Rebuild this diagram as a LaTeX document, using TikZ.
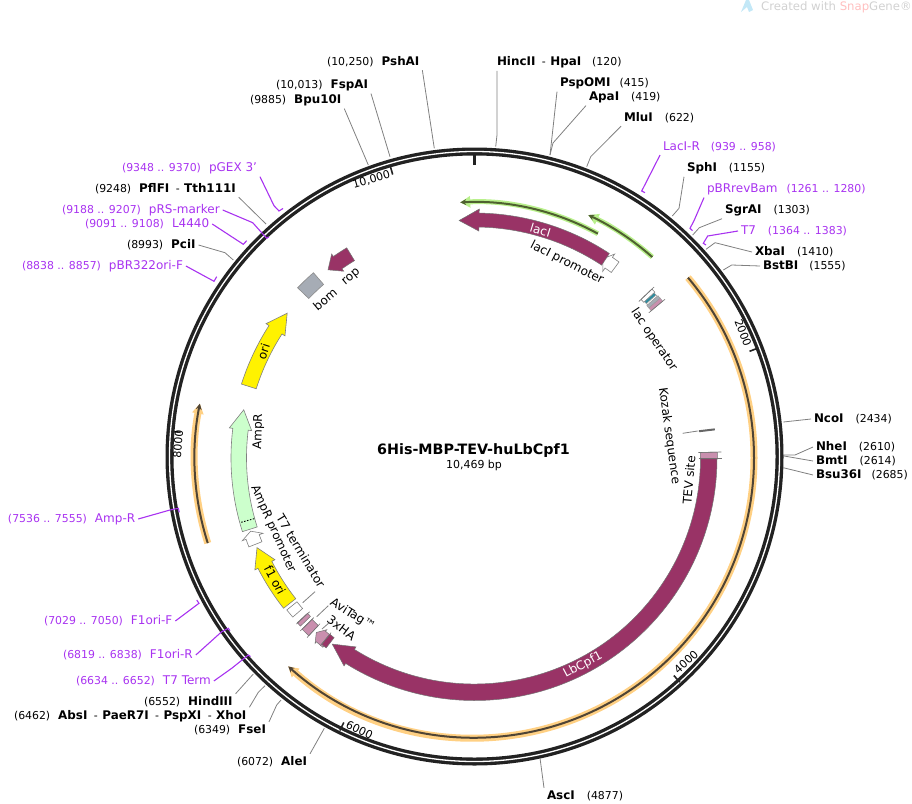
\documentclass[tikz,border=0pt]{standalone}
\usepackage{fontspec}
\setmainfont{DejaVu Sans}
\usetikzlibrary{arrows.meta}
\definecolor{genepurple}{HTML}{993366}
\definecolor{primerpurple}{HTML}{A832F0}
\definecolor{ringblack}{HTML}{222222}
\definecolor{glowgreen}{HTML}{B9F08C}
\definecolor{coregreen}{HTML}{4F6130}
\definecolor{gloworange}{HTML}{FFD083}
\definecolor{coreorange}{HTML}{4F4435}
\definecolor{ampgreen}{HTML}{CCFFCC}
\definecolor{bomgray}{HTML}{A6ACB5}
\definecolor{tagpink}{HTML}{C98FAE}
\definecolor{opteal}{HTML}{2F8C9E}
\definecolor{iconblue}{HTML}{C3E8F7}
\newcommand{\numtext}[1]{{\mdseries\fontsize{10.9}{12}\selectfont #1}}
\newcommand{\genearrow}[7]{%
  \pgfmathsetmacro{\rmid}{(#5+#6)/2}
  \pgfmathsetmacro{\rwi}{#5-#7}
  \pgfmathsetmacro{\rwo}{#6+#7}
  \draw[#1] (#2:#6) arc[start angle=#2,end angle=#3,radius=#6] -- (#3:\rwo) -- (#4:\rmid) -- (#3:\rwi) -- (#3:#5) arc[start angle=#3,end angle=#2,radius=#5] -- cycle;}
\newcommand{\genebox}[5]{%
  \draw[#1] (#2:#5) arc[start angle=#2,end angle=#3,radius=#5] -- (#3:#4) arc[start angle=#3,end angle=#2,radius=#4] -- cycle;}
\newcommand{\primerarc}[5]{%
  \draw[#1,-{Triangle[length=10pt,width=11pt]}] (#3:#5) arc[start angle=#3,end angle=#4,radius=#5];
  \draw[#2,-{Stealth[length=6pt,width=6pt]}] (#3:#5) arc[start angle=#3,end angle=#4,radius=#5];}
\tikzset{
  site/.style = {anchor = west, xshift = -3pt, yshift = -1pt, inner sep = 0pt, outer sep = 3pt, font = \fontsize{11.9}{13}\selectfont\bfseries},
  primerlabel/.style = {anchor = west, xshift = -3pt, yshift = -1pt, inner sep = 0pt, outer sep = 3pt, text = primerpurple, font = \fontsize{12}{13}\selectfont},
  leader/.style = {draw = black!50, line width = 0.8pt},
  primerline/.style = {draw = primerpurple, line width = 1.1pt},
  genelabel/.style = {inner sep = 1pt, font = \fontsize{12}{14}\selectfont},
  ticklabel/.style = {inner sep = 0pt, font = \fontsize{11}{13}\selectfont},
  gene/.style = {fill = genepurple, draw = black!55, line width = 0.5pt},
  yellowgene/.style = {fill = yellow, draw = black!50, line width = 0.6pt},
  whitegene/.style = {fill = white, draw = black!50, line width = 0.6pt},
  greengene/.style = {fill = ampgreen, draw = black!50, line width = 0.6pt},
  graybox/.style = {fill = bomgray, draw = black!45, line width = 0.6pt},
  pinkgene/.style = {fill = tagpink, draw = black!55, line width = 0.5pt},
  spike/.style = {draw = black!55, line width = 0.6pt},
  glowg/.style = {draw = glowgreen, line width = 5pt},
  coreg/.style = {draw = coregreen, line width = 2pt},
  glowo/.style = {draw = gloworange, line width = 7pt},
  coreo/.style = {draw = coreorange, line width = 2pt}
}
\begin{document}
\begin{tikzpicture}[x = 1pt, y = -1pt]
\useasboundingbox (0,0) rectangle (912,803);

\fill[iconblue] (741,12) -- (746,0) -- (749,0) -- (753,10) -- (749,12) -- (747,7) -- cycle;
\node[anchor = west, inner sep = 0pt, text = black!18, font = \fontsize{11.7}{13}\selectfont] (snapgene) at (761,7) {Created with \textcolor{red!25}{Snap}Gene®};

\begin{scope}[shift = {(474.5,458)}, y = 1pt]
\draw[ringblack, line width = 8pt] (0,1.5) circle[radius = 305];
\draw[white, line width = 1.3pt] (0,1.5) circle[radius = 305];
\draw[ringblack, line width = 2.6pt] (90:293) -- (90:303);
\foreach \tickangle in {21.2,-47.5,-116.3,-185,106.1}
  \draw[ringblack, line width = 1.6pt] (\tickangle:295) -- (\tickangle:304);

\primerarc{glowg}{coreg}{61.2}{93.2}{256}
\primerarc{glowg}{coreg}{48.5}{64.9}{268.3}
\primerarc{glowo}{coreo}{40.2}{-131.8}{279.5}
\primerarc{glowo}{coreo}{197.7}{168.8}{280}

\genearrow{whitegene}{53.6}{55.5}{57.2}{230.5}{243.5}{4}
\genearrow{gene}{56.6}{88.9}{93.7}{231}{245}{4}
\genebox{whitegene}{42.6}{43.6}{230}{245}
\genebox{fill = opteal, draw = black!40, line width = 0.4pt}{41.9}{42.6}{231}{244}
\genebox{fill = white, draw = black!40, line width = 0.4pt}{41.5}{41.9}{231}{244}
\genebox{fill = bomgray, draw = black!40, line width = 0.4pt}{40.7}{41.5}{230}{245}
\genebox{fill = tagpink, draw = black!40, line width = 0.4pt}{39.8}{40.7}{230}{245}
\draw[spike] (43.6:227) -- (43.6:248);
\draw[spike] (39.8:227) -- (39.8:248);
\draw[black!60, line width = 2pt] (6.8:226) -- (6.8:242);
\genebox{pinkgene}{-0.2}{1.4}{226}{243}
\draw[spike] (1.4:224) -- (1.4:247);
\draw[spike] (0:224) -- (0:247);

\genearrow{gene}{121.3}{125}{127.9}{231}{246}{3}
\genebox{graybox}{131}{136.1}{230}{245.5}
\genearrow{yellowgene}{162.4}{147.2}{142.3}{229}{244.5}{3.5}
\genearrow{greengene}{197.6}{173}{168.2}{228}{243.5}{3.5}
\draw[black, line width = 0.9pt, dash pattern = on 1.5pt off 1.5pt] (195.4:228.5) -- (195.4:243);
\genearrow{whitegene}{201.5}{199.6}{198.1}{228.5}{242.5}{4}
\genearrow{yellowgene}{218.2}{207}{202.4}{227.5}{243}{3.5}
\genebox{whitegene}{219}{221.2}{228.5}{241.5}
\genebox{pinkgene}{222.9}{224}{228}{242}
\draw[spike] (223:225.5) -- (223:243.5);
\genebox{pinkgene}{224.8}{227}{229}{243}
\draw[spike] (224.8:226.5) -- (224.8:245.5);
\draw[spike] (227:226.5) -- (227:245.5);
\genearrow{pinkgene}{231.3}{229.3}{227.8}{228.5}{242.5}{2}
\genebox{gene}{230.6}{232}{228}{241}
\draw[spike] (230.6:226) -- (230.6:243);
\genearrow{gene}{-0.2}{-122.1}{-127.4}{226}{242.5}{3}
\end{scope}

\node[ticklabel, rotate = 16] (tick10000) at (371.5,180) {10,000};
\node[ticklabel, rotate = -69] (tick2000) at (743,333) {2000};
\node[ticklabel, rotate = 42] (tick4000) at (686,662) {4000};
\node[ticklabel, rotate = -26] (tick6000) at (359.5,730) {6000};
\node[ticklabel, rotate = 85] (tick8000) at (178,444) {8000};

\node[font = \fontsize{14.3}{16}\selectfont\bfseries, inner sep = 0pt] (plasmidname) at (473.5,451) {6His-MBP-TEV-huLbCpf1};
\node[font = \fontsize{11}{12}\selectfont, inner sep = 0pt] (plasmidsize) at (474,465) {10,469 bp};

\node[genelabel, text = white, rotate = -17] (laci) at (540.5,230) {lacI};
\node[genelabel, rotate = -27] (lacipro) at (567,263) {lacI promoter};
\node[genelabel, rotate = -56] (lacop) at (654,340) {lac operator};
\node[genelabel, rotate = -82] (kozak) at (669,436) {Kozak sequence};
\node[genelabel, rotate = 85] (tevsite) at (689,480) {TEV site};
\node[genelabel, text = white, rotate = 28] (lbcpf1) at (583,665) {LbCpf1};
\node[genelabel, rotate = 40] (rop) at (351.5,277.5) {rop};
\node[genelabel, rotate = 40] (bom) at (325,299.5) {bom};
\node[genelabel, rotate = 72] (ori) at (263.5,351.5) {ori};
\node[genelabel, rotate = 88] (ampr) at (258.5,431.5) {AmpR};
\node[genelabel, font = \fontsize{11.8}{14}\selectfont, rotate = -66] (amprpro) at (273,529) {AmpR promoter};
\node[genelabel, rotate = -59] (t7term) at (301,551) {T7 terminator};
\node[genelabel, rotate = -62] (f1ori) at (275,580) {f1 ori};
\node[genelabel, rotate = -32] (avitag) at (352.5,615) {AviTag™};
\node[genelabel, rotate = -37] (hatag) at (341.5,628) {3xHA};

\coordinate (kozak-a) at (682.7,433.3);
\coordinate (kozak-b) at (697.7,431);
\draw[leader] (kozak-a) -- (kozak-b);
\coordinate (t7term-a) at (302.7,602.7);
\coordinate (t7term-b) at (315,591.7);
\draw[leader] (t7term-a) -- (t7term-b);
\coordinate (avitag-a) at (316.7,616.7);
\coordinate (avitag-b) at (328.3,605.7);
\draw[leader] (avitag-a) -- (avitag-b);
\coordinate (hatag-a) at (322,629);
\coordinate (hatag-b) at (330,622);
\draw[leader] (hatag-a) -- (hatag-b);

\node[site] (pshai) at (327,61) {\numtext{(10,250)}\hspace{8pt}PshAI};
\coordinate (pshai-r) at (434.3,148.3);
\draw[leader] (pshai.south east) -- (pshai-r);
\node[site] (fspai) at (276,84) {\numtext{(10,013)}\hspace{8pt}FspAI};
\coordinate (fspai-r) at (390,156.7);
\draw[leader] (fspai.south east) -- (fspai-r);
\node[site] (bpu) at (250,99) {\numtext{(9885)}\hspace{8pt}Bpu10I};
\coordinate (bpu-r) at (368.3,165);
\draw[leader] (bpu.south east) -- (bpu-r);
\node[site] (hincii) at (497,61) {HincII\numtext{\hspace{3pt} - \hspace{1pt}}HpaI\hspace{11pt}\numtext{(120)}};
\coordinate (hincii-k) at (497,135);
\coordinate (hincii-r) at (495.7,146.7);
\draw[leader] ([xshift = 3pt]hincii.south west) -- (hincii-k) -- (hincii-r);
\node[site] (pspomi) at (560,82) {PspOMI\hspace{9pt}\numtext{(415)}};
\coordinate (pspomi-r) at (550,155);
\draw[leader] (pspomi.south west) -- (pspomi-r);
\node[site] (apai) at (589,96) {ApaI\hspace{12pt}\numtext{(419)}};
\coordinate (apai-k) at (553,143);
\draw[leader] (apai.south west) -- (apai-k) -- (pspomi-r);
\node[site] (mlui) at (624,117) {MluI\hspace{12pt}\numtext{(622)}};
\coordinate (mlui-k) at (590.7,156.7);
\coordinate (mlui-r) at (586.7,166.7);
\draw[leader] (mlui.south west) -- (mlui-k) -- (mlui-r);
\node[primerlabel] (lacir) at (663,146) {LacI-R\hspace{11pt}\numtext{(939 .. 958)}};
\coordinate (lacir-r) at (641.7,191);
\coordinate (lacir-t) at (645,192.7);
\draw[primerline] (lacir.south west) -- (lacir-r) -- (lacir-t);
\node[site] (sphi) at (687,167) {SphI\hspace{12pt}\numtext{(1155)}};
\coordinate (sphi-k) at (679,208.3);
\coordinate (sphi-r) at (672.3,216);
\draw[leader] (sphi.south west) -- (sphi-k) -- (sphi-r);
\node[primerlabel] (pbrrev) at (707,188) {pBRrevBam\hspace{9pt}\numtext{(1261 .. 1280)}};
\coordinate (pbrrev-k) at (694,220.7);
\coordinate (pbrrev-r) at (690,228.3);
\coordinate (pbrrev-t) at (692.5,230.7);
\draw[primerline] (pbrrev.south west) -- (pbrrev-k) -- (pbrrev-r) -- (pbrrev-t);
\node[site] (sgrai) at (725,209) {SgrAI\hspace{12pt}\numtext{(1303)}};
\coordinate (sgrai-k) at (699.3,227.7);
\coordinate (sgrai-r) at (692.7,235);
\draw[leader] (sgrai.south west) -- (sgrai-k) -- (sgrai-r);
\node[primerlabel] (ttseven) at (741,230) {T7\hspace{12pt}\numtext{(1364 .. 1383)}};
\coordinate (ttseven-k) at (707.7,236);
\coordinate (ttseven-r) at (703.3,243.3);
\coordinate (ttseven-t) at (706,245);
\draw[primerline] (ttseven.west) -- (ttseven-k) -- (ttseven-r) -- (ttseven-t);
\node[site] (xbai) at (755,251) {XbaI\hspace{12pt}\numtext{(1410)}};
\coordinate (xbai-k) at (715,242.7);
\coordinate (xbai-r) at (706,249.3);
\draw[leader] (xbai.west) -- (xbai-k) -- (xbai-r);
\node[site] (bstbi) at (763,265) {BstBI\hspace{11pt}\numtext{(1555)}};
\coordinate (bstbi-k) at (731.7,265);
\coordinate (bstbi-r) at (723.3,270);
\draw[leader] (bstbi.west) -- (bstbi-k) -- (bstbi-r);
\node[site] (ncoi) at (814,418) {NcoI\hspace{12pt}\numtext{(2434)}};
\coordinate (ncoi-r) at (783.3,422);
\draw[leader] (ncoi.west) -- (ncoi-r);
\node[site] (nhei) at (816,446) {NheI\hspace{12pt}\numtext{(2610)}};
\coordinate (nhei-k) at (795,455);
\coordinate (nhei-r) at (784,455);
\draw[leader] (nhei.west) -- (nhei-k) -- (nhei-r);
\node[site] (bmti) at (816,460) {BmtI\hspace{12pt}\numtext{(2614)}};
\coordinate (bmti-r) at (784,456);
\draw[leader] (bmti.west) -- (bmti-r);
\node[site] (bsu) at (816,474) {Bsu36I\hspace{10pt}\numtext{(2685)}};
\coordinate (bsu-r) at (783.3,467.7);
\draw[leader] (bsu.west) -- (bsu-r);
\node[site] (asci) at (547,795) {AscI\hspace{12pt}\numtext{(4877)}};
\coordinate (asci-r) at (540,758);
\draw[leader] (asci.north west) -- (asci-r);

\node[primerlabel] (pgex) at (122,167) {\numtext{(9348 .. 9370)}\hspace{8pt}pGEX 3'};
\coordinate (pgex-k) at (274,205.7);
\coordinate (pgex-r) at (279,211);
\coordinate (pgex-t) at (283,208.5);
\draw[primerline] (pgex.south east) -- (pgex-k) -- (pgex-r) -- (pgex-t);
\node[site] (pflfi) at (95,188) {\numtext{(9248)}\hspace{8pt}PflFI\numtext{\hspace{3pt} - \hspace{1pt}}Tth111I};
\coordinate (pflfi-r) at (266,224);
\draw[leader] (pflfi.south east) -- (pflfi-r);
\node[primerlabel] (prsmarker) at (62,209) {\numtext{(9188 .. 9207)}\hspace{8pt}pRS-marker};
\coordinate (prsmarker-k) at (252.7,222.7);
\coordinate (prsmarker-r) at (266.7,238.3);
\coordinate (prsmarker-t) at (268.8,236.8);
\draw[primerline] (prsmarker.east) -- (prsmarker-k) -- (prsmarker-r) -- (prsmarker-t);
\node[primerlabel] (lfourfour) at (85,223) {\numtext{(9091 .. 9108)}\hspace{8pt}L4440};
\coordinate (lfourfour-r) at (243.3,244.3);
\coordinate (lfourfour-t) at (246.7,240.7);
\draw[primerline] (lfourfour.east) -- (lfourfour-r) -- (lfourfour-t);
\node[site] (pcii) at (127,244) {\numtext{(8993)}\hspace{8pt}PciI};
\coordinate (pcii-k) at (225,252.7);
\coordinate (pcii-r) at (233.3,260);
\draw[leader] (pcii.east) -- (pcii-k) -- (pcii-r);
\node[primerlabel] (pbrori) at (22,265) {\numtext{(8838 .. 8857)}\hspace{8pt}pBR322ori-F};
\coordinate (pbrori-r) at (214,281.3);
\coordinate (pbrori-t) at (216.7,276.7);
\draw[primerline] (pbrori.east) -- (pbrori-r) -- (pbrori-t);
\node[primerlabel] (ampprimer) at (8,518) {\numtext{(7536 .. 7555)}\hspace{8pt}Amp-R};
\coordinate (ampprimer-k) at (170,510);
\coordinate (ampprimer-r) at (178.3,508.3);
\coordinate (ampprimer-t) at (179.3,512.3);
\draw[primerline] (ampprimer.east) -- (ampprimer-k) -- (ampprimer-r) -- (ampprimer-t);
\node[primerlabel] (foneorif) at (44,620) {\numtext{(7029 .. 7050)}\hspace{8pt}F1ori-F};
\coordinate (foneorif-r) at (199,603.3);
\coordinate (foneorif-t) at (196.7,600);
\draw[primerline] (foneorif.east) -- (foneorif-r) -- (foneorif-t);
\node[primerlabel] (foneorir) at (63,654) {\numtext{(6819 .. 6838)}\hspace{8pt}F1ori-R};
\coordinate (foneorir-k) at (221.7,631.7);
\coordinate (foneorir-r) at (228.3,628.3);
\coordinate (foneorir-t) at (230,630.7);
\draw[primerline] (foneorir.east) -- (foneorir-k) -- (foneorir-r) -- (foneorir-t);
\node[primerlabel] (ttsevenr) at (76,680) {\numtext{(6634 .. 6652)}\hspace{8pt}T7 Term};
\coordinate (ttsevenr-k) at (231.7,668.3);
\coordinate (ttsevenr-r) at (248.3,655);
\coordinate (ttsevenr-t) at (250.5,656.5);
\draw[primerline] (ttsevenr.east) -- (ttsevenr-k) -- (ttsevenr-r) -- (ttsevenr-t);
\node[site] (hindiii) at (144,701) {\numtext{(6552)}\hspace{8pt}HindIII};
\coordinate (hindiii-r) at (253.3,674);
\draw[leader] (hindiii.north east) -- (hindiii-r);
\node[site] (xhoi) at (14,715) {\numtext{(6462)}\hspace{8pt}AbsI\numtext{\hspace{3pt} - \hspace{1pt}}PaeR7I\numtext{\hspace{3pt} - \hspace{1pt}}PspXI\numtext{\hspace{3pt} - \hspace{1pt}}XhoI};
\coordinate (xhoi-k) at (258.3,692.3);
\coordinate (xhoi-r) at (265,685.7);
\draw[leader] (xhoi.north east) -- (xhoi-k) -- (xhoi-r);
\node[site] (fsei) at (194,729) {\numtext{(6349)}\hspace{8pt}FseI};
\coordinate (fsei-k) at (276.7,705);
\coordinate (fsei-r) at (281,700);
\draw[leader] (fsei.north east) -- (fsei-k) -- (fsei-r);
\node[site] (alei) at (237,761) {\numtext{(6072)}\hspace{8pt}AleI};
\coordinate (alei-r) at (324.3,728.3);
\draw[leader] (alei.north east) -- (alei-r);
\end{tikzpicture}
\end{document}
